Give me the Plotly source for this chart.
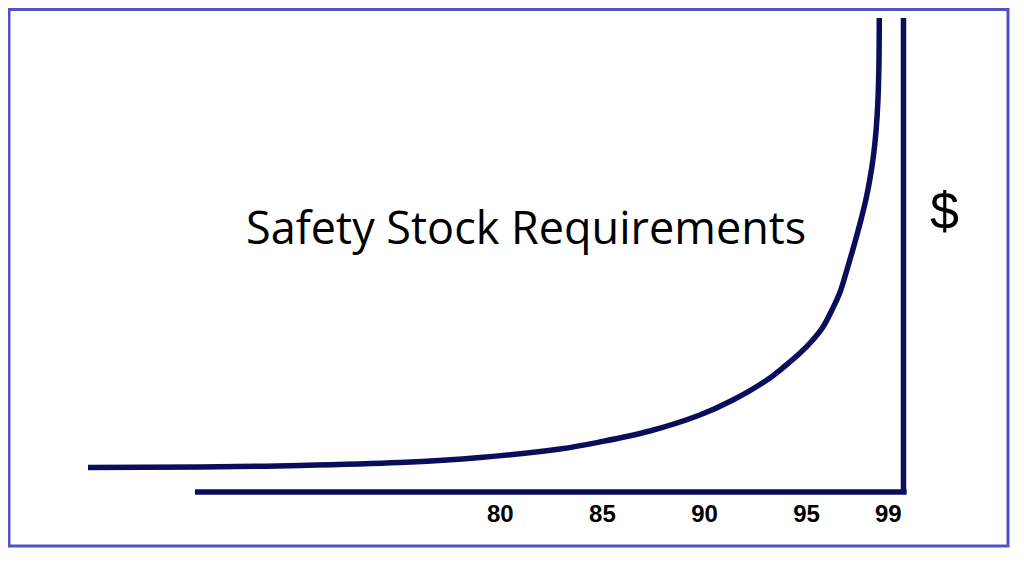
import plotly.graph_objects as go

# Service level (%) vs. safety stock cost (arbitrary $ units)
service_level = [59.81, 65.29, 70.19, 75.09, 79.01, 82.92, 84.87, 87.32, 89.77,
                 91.39, 93.06, 93.94, 94.68, 95.26, 95.80, 96.24, 96.64, 97.03,
                 97.37, 97.66, 97.91, 98.10, 98.28, 98.40, 98.49, 98.54, 98.56]
safety_cost = [24.5, 25, 26.5, 29.5, 34.5, 43, 50, 61, 77,
               92, 112, 126, 139, 151, 165, 182, 200, 226,
               250, 272, 293, 313, 337, 361, 390, 425, 474]

tick_vals = [80, 85, 90, 95, 99]
tick_text = ["80", "85", "90", "95", "99"]

title_text = "Safety Stock Requirements"
y_label = "$"

NAVY = "rgb(12,12,92)"
BORDER = "rgb(82,82,200)"

W, H = 1024, 564
MB = 75
PH = H - MB  # plot height in px


def px_x(p):
    return p / W


def px_y(p):
    return (PH - p) / PH


fig = go.Figure()
fig.add_trace(go.Scatter(
    x=service_level, y=safety_cost, mode="lines",
    line=dict(color=NAVY, width=5.5, shape="spline", smoothing=1.0),
    hoverinfo="skip", showlegend=False,
))

shapes = [
    # horizontal axis
    dict(type="line", xref="x", yref="y", x0=65.05, x1=99.90, y0=0, y1=0,
         line=dict(color=NAVY, width=5.5)),
    # vertical axis
    dict(type="line", xref="x", yref="y", x0=99.745, x1=99.745, y0=0, y1=474,
         line=dict(color=NAVY, width=5.5)),
    # outer border
    dict(type="rect", xref="paper", yref="paper",
         x0=px_x(1), x1=px_x(1000), y0=px_y(538), y1=px_y(1.5),
         line=dict(color=BORDER, width=3)),
]

annotations = [
    dict(text=title_text, xref="paper", yref="paper",
         x=px_x(517.5), y=px_y(218), showarrow=False,
         xanchor="center", yanchor="middle",
         font=dict(family="Open Sans", size=45, color="black")),
    dict(text=y_label, xref="paper", yref="paper",
         x=px_x(936), y=px_y(203), showarrow=False,
         xanchor="center", yanchor="middle",
         font=dict(family="Liberation Sans", size=52, color="black")),
]

fig.update_layout(
    width=W, height=H,
    margin=dict(l=0, r=0, t=0, b=MB, pad=0),
    paper_bgcolor="white", plot_bgcolor="white",
    shapes=shapes, annotations=annotations,
    xaxis=dict(range=[55.892, 106.038], showgrid=False, zeroline=False,
               showline=False, tickvals=tick_vals, ticktext=tick_text,
               ticks="", ticklabelstandoff=0,
               tickfont=dict(family="Liberation Sans", size=24,
                             color="black", weight="bold")),
    yaxis=dict(range=[-5, 484], showgrid=False, zeroline=False,
               showline=False, showticklabels=False, ticks=""),
)

fig.write_html("out.html")
